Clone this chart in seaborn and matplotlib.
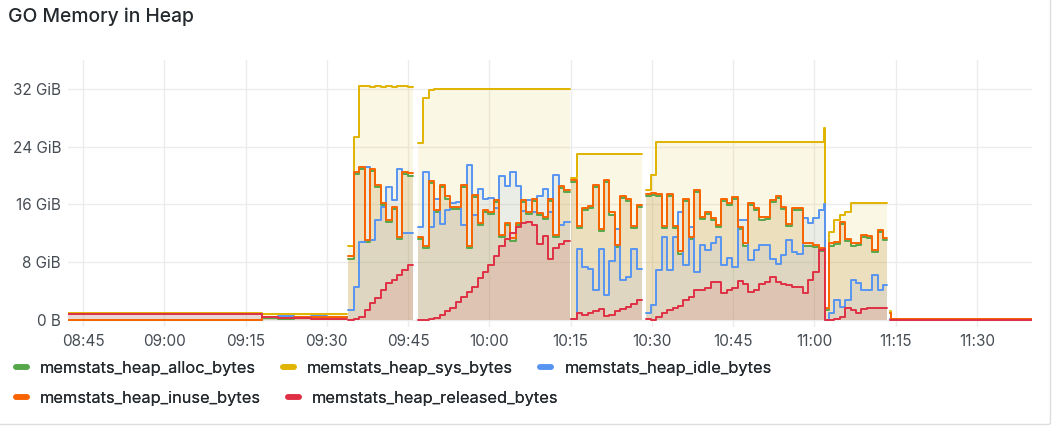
import numpy as np
import pandas as pd
import matplotlib
matplotlib.use("Agg")
import matplotlib.pyplot as plt
import matplotlib.dates as mdates
from matplotlib.lines import Line2D
from matplotlib.patches import FancyBboxPatch
from matplotlib.ticker import FuncFormatter, FixedLocator
import seaborn as sns

DAY = "2024-01-01"


def minutes(start, n):
    # one scrape per minute, starting at `start`
    t0 = pd.Timestamp(f"{DAY} {start}")
    return [t0 + pd.Timedelta(minutes=i) for i in range(n)]


def at(*stamps):
    return [pd.Timestamp(f"{DAY} {s}") for s in stamps]


# sample times; the single stamps between runs are the gaps (no data)
times = (
    at("08:42:00", "09:18:00", "09:21:00", "09:24:00", "09:27:00", "09:30:00", "09:33:40")
    + at("09:33:50") + minutes("09:33:58", 13)
    + at("09:46:30") + minutes("09:46:50", 29)
    + at("10:15:00") + minutes("10:15:10", 14)
    + at("10:28:30") + minutes("10:28:50", 34)
    + at("11:02:00") + minutes("11:02:40", 11) + at("11:13:25")
    + at("11:13:40") + at("11:14:00", "11:14:10", "11:20:00", "11:26:00", "11:32:00", "11:40:30")
)

# values in GiB, None = gap between runs
heap_sys = (
    [0.90, 0.80, 0.85, 0.80, 0.85, 0.80, 0.80] + [None]
    + [10.2, 25.4, 32.4, 32.4, 32.3, 32.4, 32.3, 32.4, 32.3, 32.4, 32.4, 32.3, 32.3] + [None]
    + [24.5, 30.7, 31.9, 32.0, 32.0, 32.0, 32.0, 32.0, 32.0, 32.0,
       32.0, 32.0, 32.0, 32.0, 32.0, 32.0, 32.0, 32.0, 32.0, 32.0,
       32.0, 32.0, 32.0, 32.0, 32.0, 32.0, 32.0, 32.0, 32.0] + [None]
    + [19.6, 23.0, 23.0, 23.0, 23.0, 23.0, 23.0, 23.0, 23.0, 23.0, 23.0, 23.0, 23.0, 23.0] + [None]
    + [18.0, 20.1, 24.7, 24.7, 24.7, 24.7, 24.7, 24.7, 24.7, 24.7,
       24.7, 24.7, 24.7, 24.7, 24.7, 24.7, 24.7, 24.7, 24.7, 24.7,
       24.7, 24.7, 24.7, 24.7, 24.7, 24.7, 24.7, 24.7, 24.7, 24.7,
       24.7, 24.7, 24.7, 26.6]
    + [1.7, 12.2, 13.8, 14.5, 15.0, 16.2, 16.2, 16.2, 16.2, 16.2, 16.2, 16.2, 16.2] + [None]
    + [1.2, 0.15, 0.15, 0.15, 0.15, 0.15]
)

heap_inuse = (
    [0.05, 0.35, 0.30, 0.40, 0.35, 0.45, 0.45] + [None]
    + [8.8, 20.5, 21.2, 11.1, 20.9, 18.7, 16.2, 13.8, 15.7, 11.5, 20.5, 20.3, 20.3] + [None]
    + [11.5, 10.2, 19.2, 15.2, 18.7, 17.1, 15.7, 15.6, 18.7, 10.2,
       17.3, 13.4, 15.2, 15.0, 16.6, 11.8, 13.4, 11.3, 13.4, 16.6,
       15.0, 16.8, 14.8, 14.3, 16.8, 11.8, 18.6, 18.0, 18.0] + [None]
    + [19.4, 13.0, 15.5, 15.8, 18.7, 12.6, 19.4, 14.9, 10.4, 17.2, 16.8, 13.0, 15.9, 15.9] + [None]
    + [17.5, 17.6, 17.5, 13.0, 17.4, 13.0, 9.5, 16.8, 11.5, 18.0,
       14.3, 15.0, 14.1, 13.2, 16.8, 16.2, 17.0, 12.9, 10.6, 16.2,
       15.5, 14.2, 14.3, 16.6, 17.2, 15.7, 13.3, 15.5, 15.5, 10.6,
       10.6, 10.4, 9.9, 9.9]
    + [1.6, 10.6, 10.8, 13.6, 11.2, 10.6, 10.7, 11.8, 11.6, 9.7, 12.5, 11.4, 11.4] + [None]
    + [1.0, 0.12, 0.12, 0.12, 0.12, 0.12]
)

heap_alloc = (
    [0.03, 0.25, 0.20, 0.30, 0.25, 0.35, 0.35] + [None]
    + [8.5, 20.2, 20.9, 10.8, 20.6, 18.4, 15.9, 13.5, 15.4, 11.2, 20.2, 20.0, 20.0] + [None]
    + [11.2, 9.9, 18.9, 14.9, 18.4, 16.8, 15.4, 15.3, 18.4, 9.9,
       17.0, 13.1, 14.9, 14.7, 16.3, 11.5, 13.1, 11.0, 13.1, 16.3,
       14.7, 16.5, 14.5, 14.0, 16.5, 11.5, 18.3, 17.7, 17.7] + [None]
    + [19.1, 12.7, 15.2, 15.5, 18.4, 12.3, 19.1, 14.6, 10.1, 16.9, 16.5, 12.7, 15.6, 15.6] + [None]
    + [17.2, 17.3, 17.2, 12.7, 17.1, 12.7, 9.2, 16.5, 11.2, 17.7,
       14.0, 14.7, 13.8, 12.9, 16.5, 15.9, 16.7, 12.6, 10.3, 15.9,
       15.2, 13.9, 14.0, 16.3, 16.9, 15.4, 13.0, 15.2, 15.2, 10.3,
       10.3, 10.1, 9.6, 9.6]
    + [1.4, 10.3, 10.5, 13.3, 10.9, 10.3, 10.4, 11.5, 11.3, 9.4, 12.2, 11.1, 11.1] + [None]
    + [0.9, 0.06, 0.06, 0.06, 0.06, 0.06]
)

heap_idle = (
    [0.85, 0.45, 0.55, 0.40, 0.50, 0.35, 0.35] + [None]
    + [1.4, 4.6, 10.8, 21.2, 11.1, 13.8, 15.7, 18.4, 16.6, 20.9, 12.0, 12.0, 12.0] + [None]
    + [12.9, 20.5, 12.9, 16.8, 13.3, 15.2, 16.2, 16.4, 13.2, 21.5,
       14.5, 18.2, 16.8, 16.9, 15.5, 20.0, 18.5, 20.5, 18.5, 15.1,
       16.6, 15.0, 17.1, 18.2, 15.0, 20.1, 13.2, 13.6, 13.6] + [None]
    + [0.2, 9.8, 7.4, 7.0, 4.1, 9.8, 3.5, 8.1, 12.6, 5.6, 5.9, 9.8, 7.1, 7.1] + [None]
    + [0.9, 2.1, 6.9, 11.5, 6.9, 11.5, 15.0, 7.6, 12.9, 6.7,
       10.4, 9.7, 10.6, 11.5, 7.6, 8.6, 7.4, 13.9, 13.9, 8.3,
       9.7, 10.4, 10.4, 8.5, 7.8, 9.0, 11.1, 9.4, 9.2, 14.1,
       13.4, 14.1, 15.2, 16.0]
    + [0.0, 0.9, 2.8, 1.8, 2.8, 5.5, 5.1, 4.2, 4.2, 6.2, 4.2, 4.8, 4.8] + [None]
    + [0.2, 0.03, 0.03, 0.03, 0.03, 0.03]
)

heap_released = (
    [0.85, 0.35, 0.30, 0.25, 0.20, 0.10, 0.10] + [None]
    + [0.0, 0.1, 0.4, 1.4, 2.3, 3.0, 4.2, 5.1, 5.5, 6.2, 6.9, 7.6, 7.6] + [None]
    + [0.0, 0.0, 0.1, 0.3, 0.7, 1.2, 1.6, 2.5, 3.2, 3.9,
       4.6, 5.8, 6.7, 7.6, 8.8, 10.2, 11.2, 12.0, 12.9, 13.4,
       13.5, 13.1, 10.5, 11.6, 8.5, 9.9, 10.5, 11.0, 11.0] + [None]
    + [0.1, 0.9, 0.7, 0.9, 1.2, 1.5, 0.6, 0.7, 1.2, 1.5, 1.8, 2.2, 2.8, 2.8] + [None]
    + [0.2, 0.0, 0.4, 0.9, 1.4, 1.6, 1.9, 2.8, 3.2, 4.2,
       4.2, 4.4, 5.3, 5.3, 3.7, 4.2, 4.4, 5.4, 5.0, 3.9,
       4.2, 5.0, 5.3, 6.0, 5.3, 5.0, 4.8, 4.6, 4.6, 3.7,
       5.5, 6.6, 9.7, 9.8]
    + [0.0, 0.0, 0.1, 0.4, 1.6, 1.4, 1.0, 1.5, 1.6, 1.6, 1.6, 1.6, 1.6] + [None]
    + [0.0, 0.03, 0.03, 0.03, 0.03, 0.03]
)

series_names = ["memstats_heap_alloc_bytes", "memstats_heap_sys_bytes", "memstats_heap_idle_bytes",
                "memstats_heap_inuse_bytes", "memstats_heap_released_bytes"]
series_colors = ["#56A64B", "#E0B400", "#5794F2", "#FA6400", "#E02F44"]

df = pd.DataFrame({
    "time": times,
    series_names[0]: heap_alloc,
    series_names[1]: heap_sys,
    series_names[2]: heap_idle,
    series_names[3]: heap_inuse,
    series_names[4]: heap_released,
}).astype({n: float for n in series_names})

# each gap row starts a new scrape run
df["run"] = df[series_names[1]].isna().cumsum()

long_df = df.melt(id_vars=["time", "run"], value_vars=series_names, var_name="series", value_name="GiB")

sns.set_theme(style="white")
plt.rcParams["font.family"] = ["Inter", "DejaVu Sans"]

fig = plt.figure(figsize=(10.56, 4.29), dpi=100)
ax = fig.add_axes([68 / 1056, 1 - 327 / 429, (1032 - 68) / 1056, (327 - 60) / 429])

palette = dict(zip(series_names, series_colors))

# translucent area under every series
xnum = mdates.date2num(df["time"])
for name in series_names:
    ax.fill_between(xnum, 0, df[name].to_numpy(), step="post", color=palette[name],
                    alpha=0.1, lw=0, zorder=1)

sns.lineplot(data=long_df, x="time", y="GiB", hue="series", hue_order=series_names,
             palette=palette, units="run", estimator=None, drawstyle="steps-post",
             lw=1.4, legend=False, ax=ax, zorder=2)

ax.set_xlim(pd.Timestamp(f"{DAY} 08:42:14"), pd.Timestamp(f"{DAY} 11:40:10"))
ax.set_ylim(-0.97, 36.0)

ax.xaxis.set_major_locator(mdates.MinuteLocator(byminute=[0, 15, 30, 45]))
ax.xaxis.set_major_formatter(mdates.DateFormatter("%H:%M"))
ax.yaxis.set_major_locator(FixedLocator([0, 8, 16, 24, 32]))
ax.yaxis.set_major_formatter(FuncFormatter(lambda v, _: "0 B" if v == 0 else f"{v:g} GiB"))

ax.grid(True, color="#ECECEC", lw=1)
ax.set_axisbelow(True)
for s in ax.spines.values():
    s.set_visible(False)
ax.tick_params(axis="both", length=0, labelsize=11, labelcolor="#464C54")
ax.tick_params(axis="y", pad=5)
ax.tick_params(axis="x", pad=5)
ax.set_xlabel("")
ax.set_ylabel("")

fig.text(8 / 1056, 1 - 17 / 429, "GO Memory in Heap", va="center", ha="left",
         fontsize=13.9, fontweight=500, color="#24292E")

# legend laid out as two flowing rows, like the dashboard panel
legend_rows = [[0, 1, 2], [3, 4]]
row_y = [368, 398]
for row, y in zip(legend_rows, row_y):
    handles = [Line2D([], [], color=series_colors[i], lw=4, solid_capstyle="round") for i in row]
    labels = [series_names[i] for i in row]
    fig.add_artist(fig.legend(handles, labels, ncol=len(row), loc="center left",
                              bbox_to_anchor=(15.5 / 1056, 1 - y / 429),
                              frameon=False, fontsize=11.8, handlelength=0.68, handletextpad=0.8,
                              columnspacing=1.65, borderpad=0, borderaxespad=0,
                              labelcolor="#24292E"))

# panel frame
fig.add_artist(FancyBboxPatch((-4 / 1056, 1 - 424.5 / 429), 1054.5 / 1056, 1.2,
                              boxstyle="round,pad=0,rounding_size=0.003",
                              transform=fig.transFigure, fill=False, ec="#DCDDE0", lw=1))

fig.savefig("out.png", dpi=100)
